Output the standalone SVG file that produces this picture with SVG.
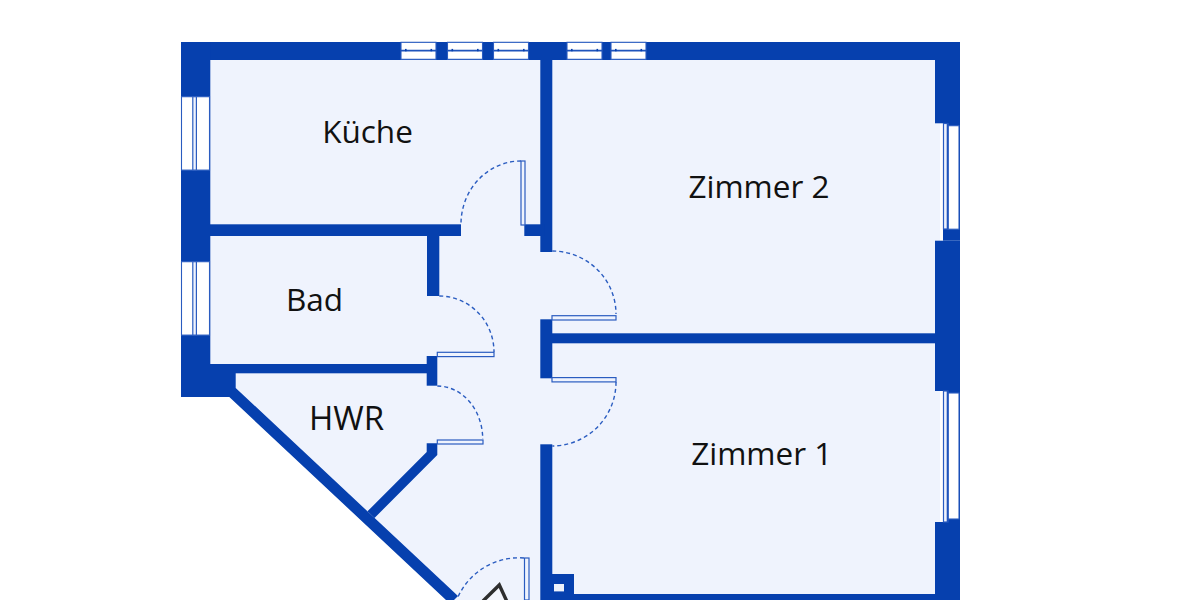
<svg xmlns="http://www.w3.org/2000/svg" width="1200" height="600" viewBox="0 0 1200 600">
<style>
.wall{fill:#0640ae}
.floor{fill:#eff3fd}
.win{fill:#fff;stroke:#2a5cc0;stroke-width:1.1}
.bar{fill:none;stroke:#1f54bc;stroke-width:1.6}
.tick{fill:#0640ae}
.panel{fill:#eff3fd;stroke:#2a5cc0;stroke-width:1.2}
.swing{fill:none;stroke:#2a5cc0;stroke-width:1.4;stroke-dasharray:4 3}
text{font-family:"Open Sans","Noto Sans","DejaVu Sans",sans-serif;font-size:31.5px;fill:#111;text-anchor:middle}
</style>
<defs>
<g id="wh"><rect class="win" x="0" y="0" width="35" height="17"/><path class="bar" d="M0 8.3H35"/><rect class="tick" x="4" y="6.6" width="1.6" height="2.4"/><rect class="tick" x="29.5" y="6.6" width="1.6" height="2.4"/></g>
<g id="wv"><rect class="win" x="0" y="0" width="28" height="73.4"/><rect class="panel" x="11.3" y="0" width="3.6" height="73.4"/></g>
</defs>
<rect width="1200" height="600" fill="#fff"/>
<polygon class="floor" points="205,55 940,55 940,600 450,600 235,392 205,392"/>
<g id="walls">
<rect class="wall" x="181" y="42" width="779" height="18"/>
<rect class="wall" x="181" y="42" width="29.3" height="355"/>
<rect class="wall" x="935" y="42" width="25" height="81.3"/>
<rect class="wall" x="943" y="123" width="17" height="117.7"/>
<rect class="wall" x="935" y="240.7" width="25" height="150.3"/>
<rect class="wall" x="943" y="391" width="17" height="131"/>
<rect class="wall" x="935" y="522" width="25" height="78"/>
<rect class="wall" x="552" y="594" width="408" height="6"/>
<rect class="wall" x="540.3" y="60" width="12" height="192"/>
<rect class="wall" x="524.3" y="224.3" width="20" height="11.7"/>
<rect class="wall" x="210" y="224.3" width="251" height="11.7"/>
<rect class="wall" x="427" y="236" width="12.3" height="60"/>
<rect class="wall" x="540.3" y="319.3" width="12" height="59"/>
<rect class="wall" x="552" y="333.3" width="383" height="10"/>
<rect class="wall" x="540.3" y="444.3" width="12" height="155.7"/>
<rect class="wall" x="552" y="574" width="22" height="26"/>
<rect x="554" y="584" width="10" height="7.4" fill="#eef2fc"/>
<rect class="wall" x="210" y="364" width="217" height="9.3"/>
<rect class="wall" x="426.7" y="356" width="10.6" height="29.7"/>
<polygon class="wall" points="210,373 235.7,373 235.7,388 458,596 454,600 446,600 229.3,397 210,397"/>
<polygon class="wall" points="426.7,443.3 437.3,443.3 437.3,455 374.5,518 367.5,511.3 426.7,452"/>
</g>
<g id="windows">
<use href="#wh" x="401" y="42.3"/>
<use href="#wh" x="447.5" y="42.3"/>
<use href="#wh" x="493.5" y="42.3"/>
<use href="#wh" x="567" y="42.3"/>
<use href="#wh" x="611" y="42.3"/>
<use href="#wv" x="181.5" y="96.7"/>
<use href="#wv" x="181.5" y="261.7"/>
<rect class="win" x="948" y="125.7" width="11" height="103.5"/>
<rect class="win" x="948" y="393" width="11" height="126"/>
<rect class="panel" x="943.5" y="123.5" width="4.5" height="105.5"/>
<rect class="panel" x="943.5" y="391" width="4.5" height="131"/>
<path class="bar" d="M947.5 123.5V229M947.5 391V522"/>
</g>
<g id="doors">
<rect class="panel" x="521" y="161" width="4" height="64"/>
<path class="swing" d="M521 161A60 63 0 0 0 461 224"/>
<rect class="panel" x="552" y="315.7" width="64" height="4.3"/>
<path class="swing" d="M552.3 251A64 63 0 0 1 616 314"/>
<rect class="panel" x="552" y="377.6" width="64" height="4.3"/>
<path class="swing" d="M616 382A64 64 0 0 1 552.3 446"/>
<rect class="panel" x="437.3" y="352.3" width="56.7" height="4.3"/>
<path class="swing" d="M439.3 296A55 56 0 0 1 494 352"/>
<rect class="panel" x="437.3" y="440" width="45.7" height="4"/>
<path class="swing" d="M437.3 386A45.5 53 0 0 1 482.7 439"/>
<rect class="panel" x="524.5" y="558" width="4.5" height="42"/>
<path class="swing" d="M524 558A67 67 0 0 0 457.5 598"/>
<path d="M483 601L499.3 585 506.7 601" fill="#f4f6fd" stroke="#2e2e2e" stroke-width="3.4"/>
</g>
<g id="labels">
<text x="367.5" y="142.5">Küche</text>
<text x="759" y="197.5">Zimmer 2</text>
<text x="761.7" y="464.5">Zimmer 1</text>
<text x="314.5" y="310.5">Bad</text>
<text x="346.5" y="429.5" style="font-size:33px">HWR</text>
</g>
</svg>
